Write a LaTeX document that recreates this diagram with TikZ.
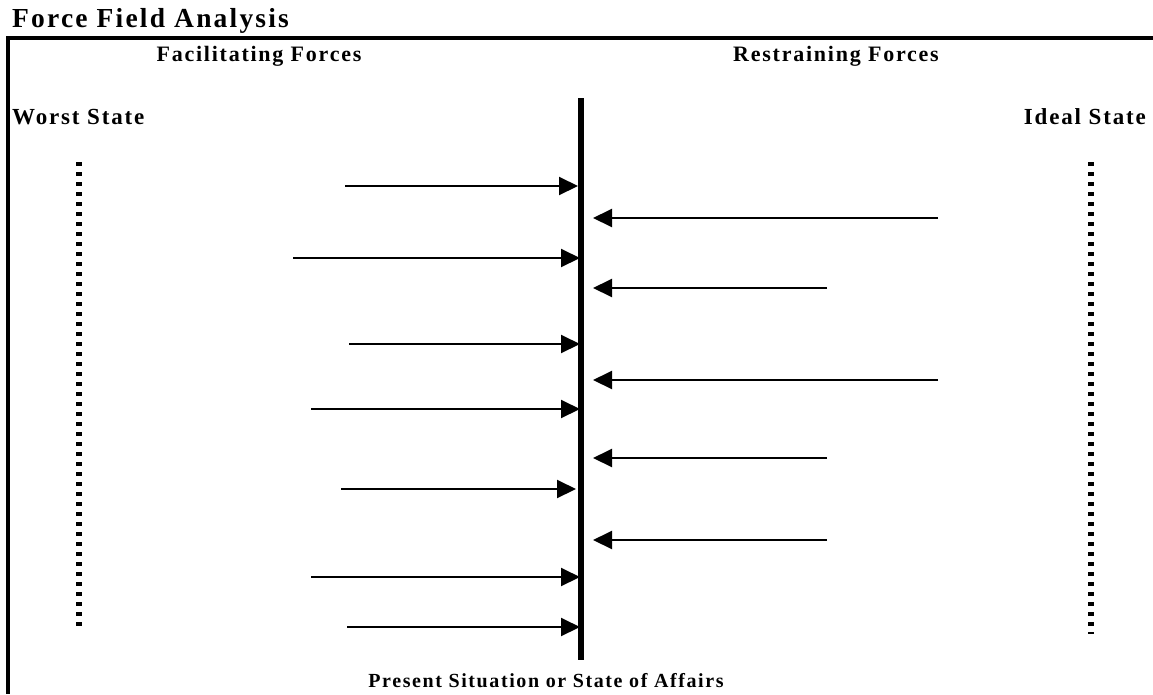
\documentclass[tikz,border=0pt]{standalone}
\usepackage{fontspec}
\setmainfont{Liberation Serif}[LetterSpace=8]
\usetikzlibrary{arrows.meta}
\begin{document}
\begin{tikzpicture}[x=1pt,y=-1pt,
  heading/.style={inner sep=0pt,font=\bfseries\fontsize{22}{26}\selectfont},
  force/.style={line width=2pt,-{Triangle[length=19pt,width=18pt]}},
  statescale/.style={line width=6pt,dash pattern=on 4pt off 6pt},
  frameline/.style={line width=4pt},
  presentbar/.style={line width=6pt}]
\useasboundingbox (0,0) rectangle (1153,694);

% frame (top and left edges only)
\coordinate (fTL) at (8,38);
\coordinate (fTR) at (1153,38);
\coordinate (fBL) at (8,694);
\draw[frameline] (fTR) -- (fTL) -- (fBL);

% headings
\node[heading,font=\bfseries\fontsize{27.5}{32}\selectfont,anchor=base west] (title) at (12,27) {Force Field Analysis};
\node[heading,anchor=base] (fac) at (259,61) {Facilitating Forces};
\node[heading,anchor=base] (res) at (836,61) {Restraining Forces};
\node[heading,font=\bfseries\fontsize{23}{27}\selectfont,anchor=base west] (worst) at (12,124) {Worst State};
\node[heading,font=\bfseries\fontsize{23}{27}\selectfont,anchor=base east] (ideal) at (1146,124) {Ideal State};
\node[heading,font=\bfseries\fontsize{20}{24}\selectfont,anchor=base] (present) at (546,687) {Present Situation or State of Affairs};

% end-state scales
\coordinate (wTop) at (79,162);
\coordinate (wBot) at (79,630);
\coordinate (iTop) at (1091,162);
\coordinate (iBot) at (1091,634);
\draw[statescale] (wTop) -- (wBot);
\draw[statescale] (iTop) -- (iBot);

% present situation bar
\coordinate (pTop) at (581,98);
\coordinate (pBot) at (581,660);
\draw[presentbar] (pTop) -- (pBot);

% facilitating forces
\foreach \n/\xs/\xe/\y in {1/345/578/186, 2/293/580/258, 3/349/580/344, 4/311/580/409,
                            5/341/576/489, 6/311/580/577, 7/347/580/627}{
  \coordinate (fs\n) at (\xs,\y);
  \coordinate (fe\n) at (\xe,\y);
  \draw[force] (fs\n) -- (fe\n);
}

% restraining forces
\foreach \n/\xs/\y in {1/938/218, 2/827/288, 3/938/380, 4/827/458, 5/827/540}{
  \coordinate (rs\n) at (\xs,\y);
  \coordinate (re\n) at (593,\y);
  \draw[force] (rs\n) -- (re\n);
}
\end{tikzpicture}
\end{document}
